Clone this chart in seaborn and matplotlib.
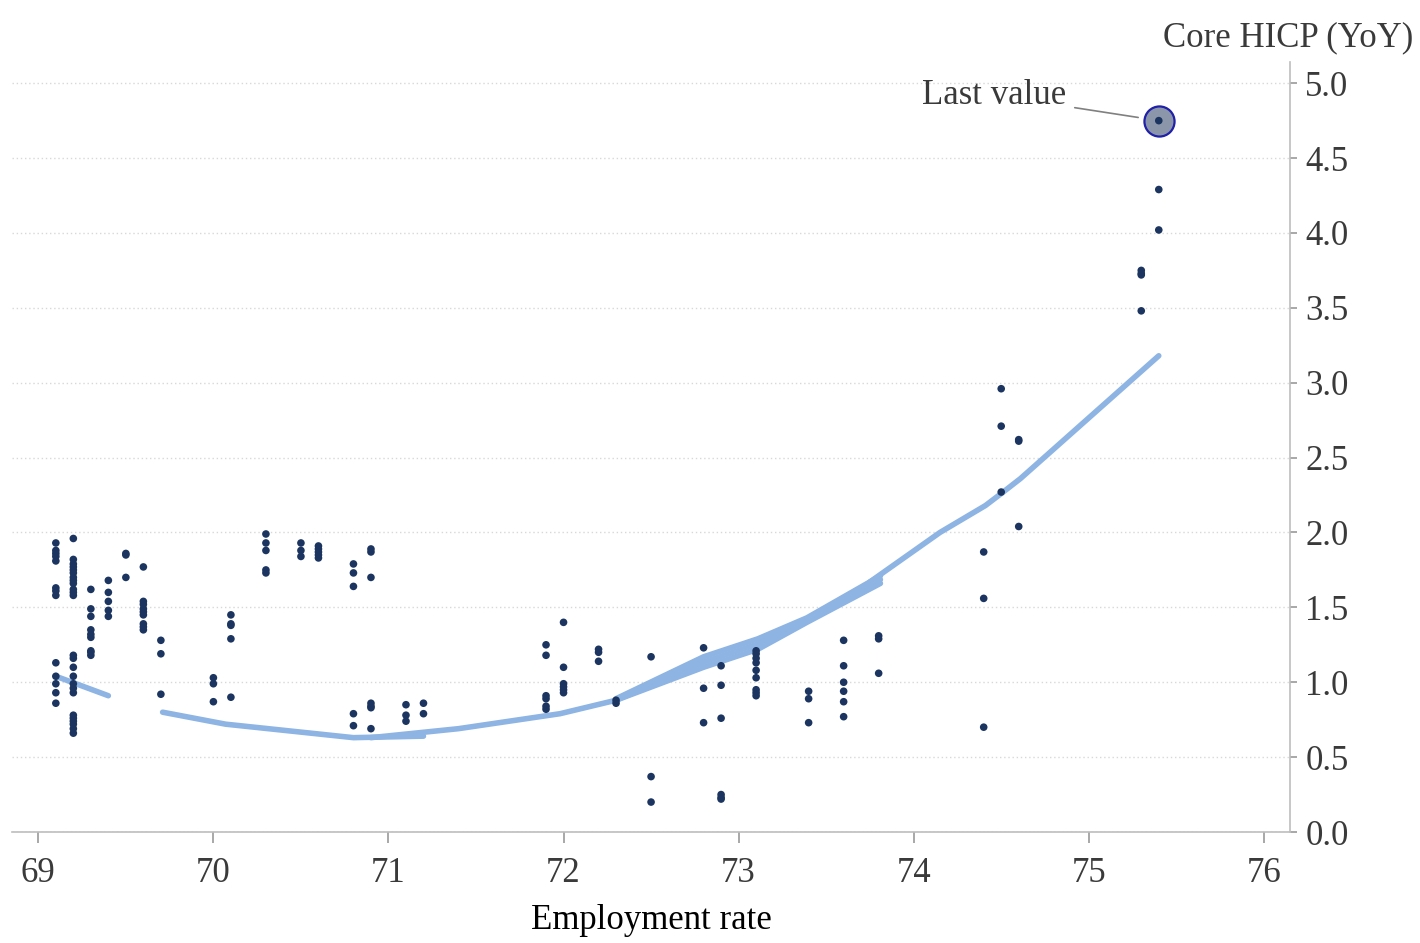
import pandas as pd
import seaborn as sns
import matplotlib.pyplot as plt

# employment rate levels and the core HICP readings seen at each level
emp_levels = [69.1, 69.2, 69.3, 69.4, 69.5, 69.6, 69.7, 70.0, 70.1, 70.3, 70.5, 70.6,
              70.8, 70.9, 71.1, 71.2, 71.9, 72.0, 72.2, 72.3, 72.5, 72.8, 72.9, 73.1,
              73.4, 73.6, 73.8, 74.4, 74.5, 74.6, 75.3, 75.4]
hicp_at_level = [
    [1.93, 1.88, 1.86, 1.84, 1.81, 1.63, 1.61, 1.58, 1.13, 1.04, 0.99, 0.93, 0.86],
    [1.96, 1.82, 1.79, 1.77, 1.75, 1.73, 1.70, 1.68, 1.66, 1.62, 1.60, 1.58, 1.18, 1.16,
     1.10, 1.04, 0.99, 0.96, 0.93, 0.78, 0.76, 0.74, 0.72, 0.69, 0.66],
    [1.62, 1.49, 1.44, 1.35, 1.32, 1.30, 1.21, 1.20, 1.18],
    [1.68, 1.60, 1.54, 1.48, 1.44],
    [1.86, 1.85, 1.70],
    [1.77, 1.54, 1.52, 1.49, 1.47, 1.45, 1.39, 1.37, 1.35],
    [1.28, 1.19, 0.92],
    [1.03, 0.99, 0.87],
    [1.45, 1.39, 1.38, 1.29, 0.90],
    [1.99, 1.93, 1.88, 1.75, 1.73],
    [1.93, 1.88, 1.84],
    [1.91, 1.89, 1.87, 1.85, 1.83],
    [1.79, 1.73, 1.64, 0.79, 0.71],
    [1.89, 1.87, 1.70, 0.86, 0.84, 0.83, 0.69],
    [0.85, 0.78, 0.74],
    [0.86, 0.79],
    [1.25, 1.18, 0.91, 0.89, 0.84, 0.82],
    [1.40, 1.10, 0.99, 0.97, 0.95, 0.93],
    [1.22, 1.20, 1.14],
    [0.88, 0.86],
    [1.17, 0.37, 0.20],
    [1.23, 0.96, 0.73],
    [1.11, 0.98, 0.76, 0.25, 0.23, 0.22],
    [1.21, 1.19, 1.16, 1.13, 1.08, 1.03, 0.95, 0.93, 0.91],
    [0.94, 0.89, 0.73],
    [1.28, 1.11, 1.00, 0.94, 0.87, 0.77],
    [1.31, 1.29, 1.06],
    [1.87, 1.56, 0.70],
    [2.96, 2.71, 2.27],
    [2.62, 2.61, 2.04],
    [3.75, 3.73, 3.72, 3.48],
    [4.29, 4.02, 4.75],
]
last_emp = 75.4
last_hicp = 4.75

# fitted curve, drawn in pieces as in the original
fit_seg = ['a', 'a',
           'b', 'b', 'b', 'b',
           'c', 'c', 'c', 'c', 'c', 'c', 'c', 'c',
           'd', 'd', 'd', 'd', 'd',
           'f', 'f', 'f', 'f', 'f',
           'e', 'e', 'e', 'e', 'e', 'e']
fit_x = [69.10, 69.40,
         69.71, 70.07, 70.80, 71.20,
         70.90, 71.40, 71.98, 72.30, 72.80, 73.11, 73.39, 73.81,
         72.30, 72.80, 73.11, 73.39, 73.81,
         72.30, 72.80, 73.11, 73.39, 73.81,
         73.75, 74.15, 74.41, 74.50, 74.61, 75.40]
fit_y = [1.04, 0.91,
         0.80, 0.72, 0.63, 0.64,
         0.63, 0.69, 0.79, 0.88, 1.10, 1.22, 1.40, 1.66,
         0.89, 1.17, 1.29, 1.43, 1.71,
         0.88, 1.135, 1.255, 1.415, 1.685,
         1.67, 2.00, 2.18, 2.26, 2.36, 3.18]

rows = [(x, y) for x, ys in zip(emp_levels, hicp_at_level) for y in ys]
df = pd.DataFrame(rows, columns=['emp', 'hicp'])
fit = pd.DataFrame({'seg': fit_seg, 'x': fit_x, 'y': fit_y})

sns.set_theme(style='white')
plt.rcParams['font.family'] = ['Liberation Serif', 'DejaVu Serif']
plt.rcParams['font.size'] = 25

fig = plt.figure(figsize=(14.2, 9.43), dpi=100)
ax = fig.add_axes([0.0085, 0.1177, 0.9, 0.8163])

txt = '#3a3a3a'
dot = '#1b3560'

sns.lineplot(data=fit, x='x', y='y', units='seg', estimator=None, sort=False,
             color='#8db4e3', lw=4.0, ax=ax, zorder=2)
ax.scatter([last_emp], [last_hicp], s=470, facecolor='#8c96aa', edgecolor='#2020a8',
           linewidth=1.6, zorder=3)
sns.scatterplot(data=df, x='emp', y='hicp', color=dot, s=30, edgecolor='none',
                ax=ax, zorder=4)

ax.annotate('Last value', xy=(last_emp, last_hicp), xytext=(74.87, 4.92),
            ha='right', va='center', fontsize=25, color=txt,
            arrowprops=dict(arrowstyle='-', color='#808080', lw=1.2,
                            shrinkA=4, shrinkB=15))

ax.set_xlim(68.85, 76.15)
ax.set_ylim(0, 5.14)
ax.set_xticks(range(69, 77))
ax.set_yticks([i * 0.5 for i in range(11)])
ax.set_yticklabels([f'{i * 0.5:.1f}' for i in range(11)])
ax.yaxis.tick_right()

ax.grid(axis='y', linestyle=(0, (1, 2)), color='#d8d8d8', lw=1)
ax.set_axisbelow(True)
for s in ['top', 'left']:
    ax.spines[s].set_visible(False)
for s in ['right', 'bottom']:
    ax.spines[s].set_color('#bdbdbd')
    ax.spines[s].set_linewidth(1.2)

ax.tick_params(axis='x', direction='out', length=8, width=1.2, color='#999999',
               labelsize=25, labelcolor=txt, pad=10, bottom=True)
ax.tick_params(axis='y', direction='out', length=5, width=1.2, color='#999999',
               labelsize=25, labelcolor=txt, pad=6, right=True)

ax.set_xlabel('Employment rate', fontsize=25, color='black', labelpad=10)
ax.set_ylabel('')
fig.text(0.995, 0.9597, 'Core HICP (YoY)', ha='right', va='center', fontsize=25, color=txt)

fig.savefig('out.png', dpi=100)
